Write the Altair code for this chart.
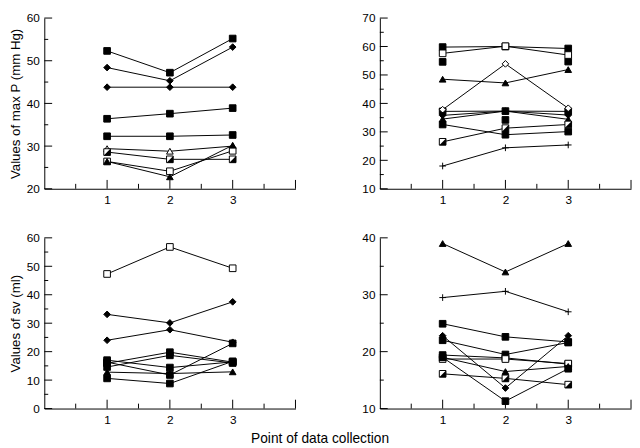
import altair as alt
import pandas as pd

X_POINTS = [1, 2, 3]

# Top-left panel: values of max P (mm Hg)
TL_STYLES = ["sq", "dia", "dia", "sq", "sq", "otri", "half", "osq", "tri"]
TL_VALUES = [
    [52.3, 47.2, 55.2],
    [48.4, 45.3, 53.2],
    [43.8, 43.8, 43.8],
    [36.4, 37.6, 38.9],
    [32.3, 32.3, 32.6],
    [29.4, 28.8, 30.0],
    [28.6, 26.9, 26.9],
    [26.4, 24.1, 28.9],
    [26.4, 22.8, 30.2],
]

# Top-right panel: values of max P (mm Hg)
TR_STYLES = ["sq", "osq", "tri", "sq", "odia", "dia", "tri", "sq", "half", "plus"]
TR_VALUES = [
    [59.8, 60.0, 59.3],
    [57.6, 60.1, 57.0],
    [48.5, 47.2, 51.9],
    [37.2, 37.3, 37.2],
    [37.8, 53.9, 38.3],
    [35.8, 37.3, 35.9],
    [34.5, 37.3, 34.4],
    [32.6, 29.0, 30.1],
    [26.5, 31.3, 32.6],
    [18.0, 24.4, 25.4],
]
TR_POINTS_ONLY_STYLE = "sq"
TR_POINTS_ONLY = [54.6, 34.2, 54.7]

# Bottom-left panel: values of sv (ml)
BL_STYLES = ["osq", "dia", "dia", "sq", "tri", "sq", "sq", "sq", "sq"]
BL_VALUES = [
    [47.3, 56.8, 49.3],
    [33.1, 30.1, 37.5],
    [24.0, 27.7, 23.3],
    [17.0, 14.4, 16.4],
    [12.8, 12.3, 12.9],
    [10.6, 8.8, 16.6],
    [15.9, 19.8, 16.3],
    [14.6, 18.7, 16.0],
    [16.3, 11.8, 22.9],
]

# Bottom-right panel: values of sv (ml)
BR_STYLES = ["tri", "plus", "sq", "dia", "sq", "sq", "osq", "tri", "sq", "half"]
BR_VALUES = [
    [39.0, 34.0, 39.0],
    [29.5, 30.6, 27.0],
    [24.9, 22.6, 21.7],
    [22.8, 13.6, 22.8],
    [22.0, 19.5, 21.6],
    [19.4, 18.9, 17.8],
    [18.7, 18.7, 17.9],
    [19.0, 16.5, 17.4],
    [19.0, 11.3, 17.0],
    [16.1, 15.3, 14.2],
]

STYLE_DOMAIN = ["sq", "osq", "half", "dia", "odia", "tri", "otri", "plus"]
STYLE_SHAPES = ["square", "square", "square", "diamond", "diamond",
                "triangle-up", "triangle-up", "M-1,0L1,0M0,-1L0,1"]
STYLE_FILLS = ["black", "white", "white", "black", "white", "black", "white", "white"]
STYLE_SIZES = [46, 46, 46, 70, 70, 56, 56, 60]

X_MAJOR = [1, 2, 3, 4]
X_MINOR = [0.5, 1.5, 2.5, 3.5]

W, H = 256, 174
FONT = "Liberation Sans"


def panel(values, styles, ymin, ymax, ytitle, extra_points=None, extra_style=None):
    rows = []
    for i, (vals, st) in enumerate(zip(values, styles)):
        for x, v in zip(X_POINTS, vals):
            rows.append({"series": f"s{i}", "x": x, "y": v, "style": st})
    df = pd.DataFrame(rows)
    pts = df.copy()
    if extra_points is not None:
        extra = pd.DataFrame({"series": "iso", "x": X_POINTS, "y": extra_points,
                              "style": extra_style})
        pts = pd.concat([extra, pts], ignore_index=True)

    xs = alt.Scale(domain=[0, 4], nice=False, zero=False)
    ys = alt.Scale(domain=[ymin, ymax], nice=False, zero=False)
    xaxis = alt.Axis(values=[1, 2, 3], ticks=False, labelPadding=6, grid=False,
                     title=None, format="d", domainColor="black")
    yargs = dict(values=list(range(ymin, ymax + 1, 10)), ticks=False, labelPadding=5,
                 grid=False, format="d", domainColor="black")
    if ytitle:
        yaxis = alt.Axis(title=ytitle, titlePadding=4, **yargs)
    else:
        yaxis = alt.Axis(title=None, **yargs)

    def X(f):
        return alt.X(f, scale=xs, axis=xaxis)

    def Y(f):
        return alt.Y(f, scale=ys, axis=yaxis)

    lines = alt.Chart(df).mark_line(color="black", strokeWidth=1).encode(
        x=X("x:Q"), y=Y("y:Q"), detail="series:N", order="x:Q",
    )
    points = alt.Chart(pts).mark_point(filled=True, stroke="black", strokeWidth=1,
                                       opacity=1, fillOpacity=1).encode(
        x=X("x:Q"), y=Y("y:Q"),
        shape=alt.Shape("style:N", scale=alt.Scale(domain=STYLE_DOMAIN, range=STYLE_SHAPES), legend=None),
        fill=alt.Fill("style:N", scale=alt.Scale(domain=STYLE_DOMAIN, range=STYLE_FILLS), legend=None),
        size=alt.Size("style:O", scale=alt.Scale(domain=STYLE_DOMAIN, range=STYLE_SIZES), legend=None),
    )
    half = alt.Chart(pts).transform_filter(alt.datum.style == "half").mark_point(
        shape="M1,-1L1,1L-1,1Z", filled=True, color="black", opacity=1, size=46).encode(
        x=X("x:Q"), y=Y("y:Q"),
    )

    ymaj = pd.DataFrame({"y": list(range(ymin, ymax + 1, 10))})
    ymin_t = pd.DataFrame({"y": list(range(ymin + 5, ymax, 10))})
    ytick_major = alt.Chart(ymaj).mark_rule(color="black", strokeWidth=1).encode(
        y=Y("y:Q"), x=alt.value(0), x2=alt.value(8))
    ytick_minor = alt.Chart(ymin_t).mark_rule(color="black", strokeWidth=1).encode(
        y=Y("y:Q"), x=alt.value(0), x2=alt.value(4))
    xtick_major = alt.Chart(pd.DataFrame({"x": X_MAJOR})).mark_rule(color="black", strokeWidth=1).encode(
        x=X("x:Q"), y=alt.value(H), y2=alt.value(H - 9))
    xtick_minor = alt.Chart(pd.DataFrame({"x": X_MINOR})).mark_rule(color="black", strokeWidth=1).encode(
        x=X("x:Q"), y=alt.value(H), y2=alt.value(H - 5))

    return alt.layer(lines, ytick_major, ytick_minor, xtick_major, xtick_minor,
                     points, half).properties(width=W, height=H)


tl = panel(TL_VALUES, TL_STYLES, 20, 60, "Values of max P (mm Hg)")
tr = panel(TR_VALUES, TR_STYLES, 10, 70, None, TR_POINTS_ONLY, TR_POINTS_ONLY_STYLE)
bl = panel(BL_VALUES, BL_STYLES, 0, 60, "Values of sv (ml)")
br = panel(BR_VALUES, BR_STYLES, 10, 40, None)

top = alt.hconcat(tl, tr, spacing=66)
bottom = alt.hconcat(bl, br, spacing=66)

chart = alt.vconcat(top, bottom, spacing=27).properties(
    title=alt.TitleParams("Point of data collection", orient="bottom", anchor="middle",
                          fontSize=14, font=FONT, fontWeight="normal", color="black", offset=7),
    padding={"left": 0, "top": 0, "right": 0, "bottom": 0},
    background="white",
).configure_view(stroke=None).configure_axis(
    labelFont=FONT, labelFontSize=12, labelColor="black",
    titleFont=FONT, titleFontSize=13.5, titleFontWeight="normal", titleColor="black",
    domainWidth=1,
)

chart.save("out.html", embed_options={"renderer": "svg", "actions": False})
